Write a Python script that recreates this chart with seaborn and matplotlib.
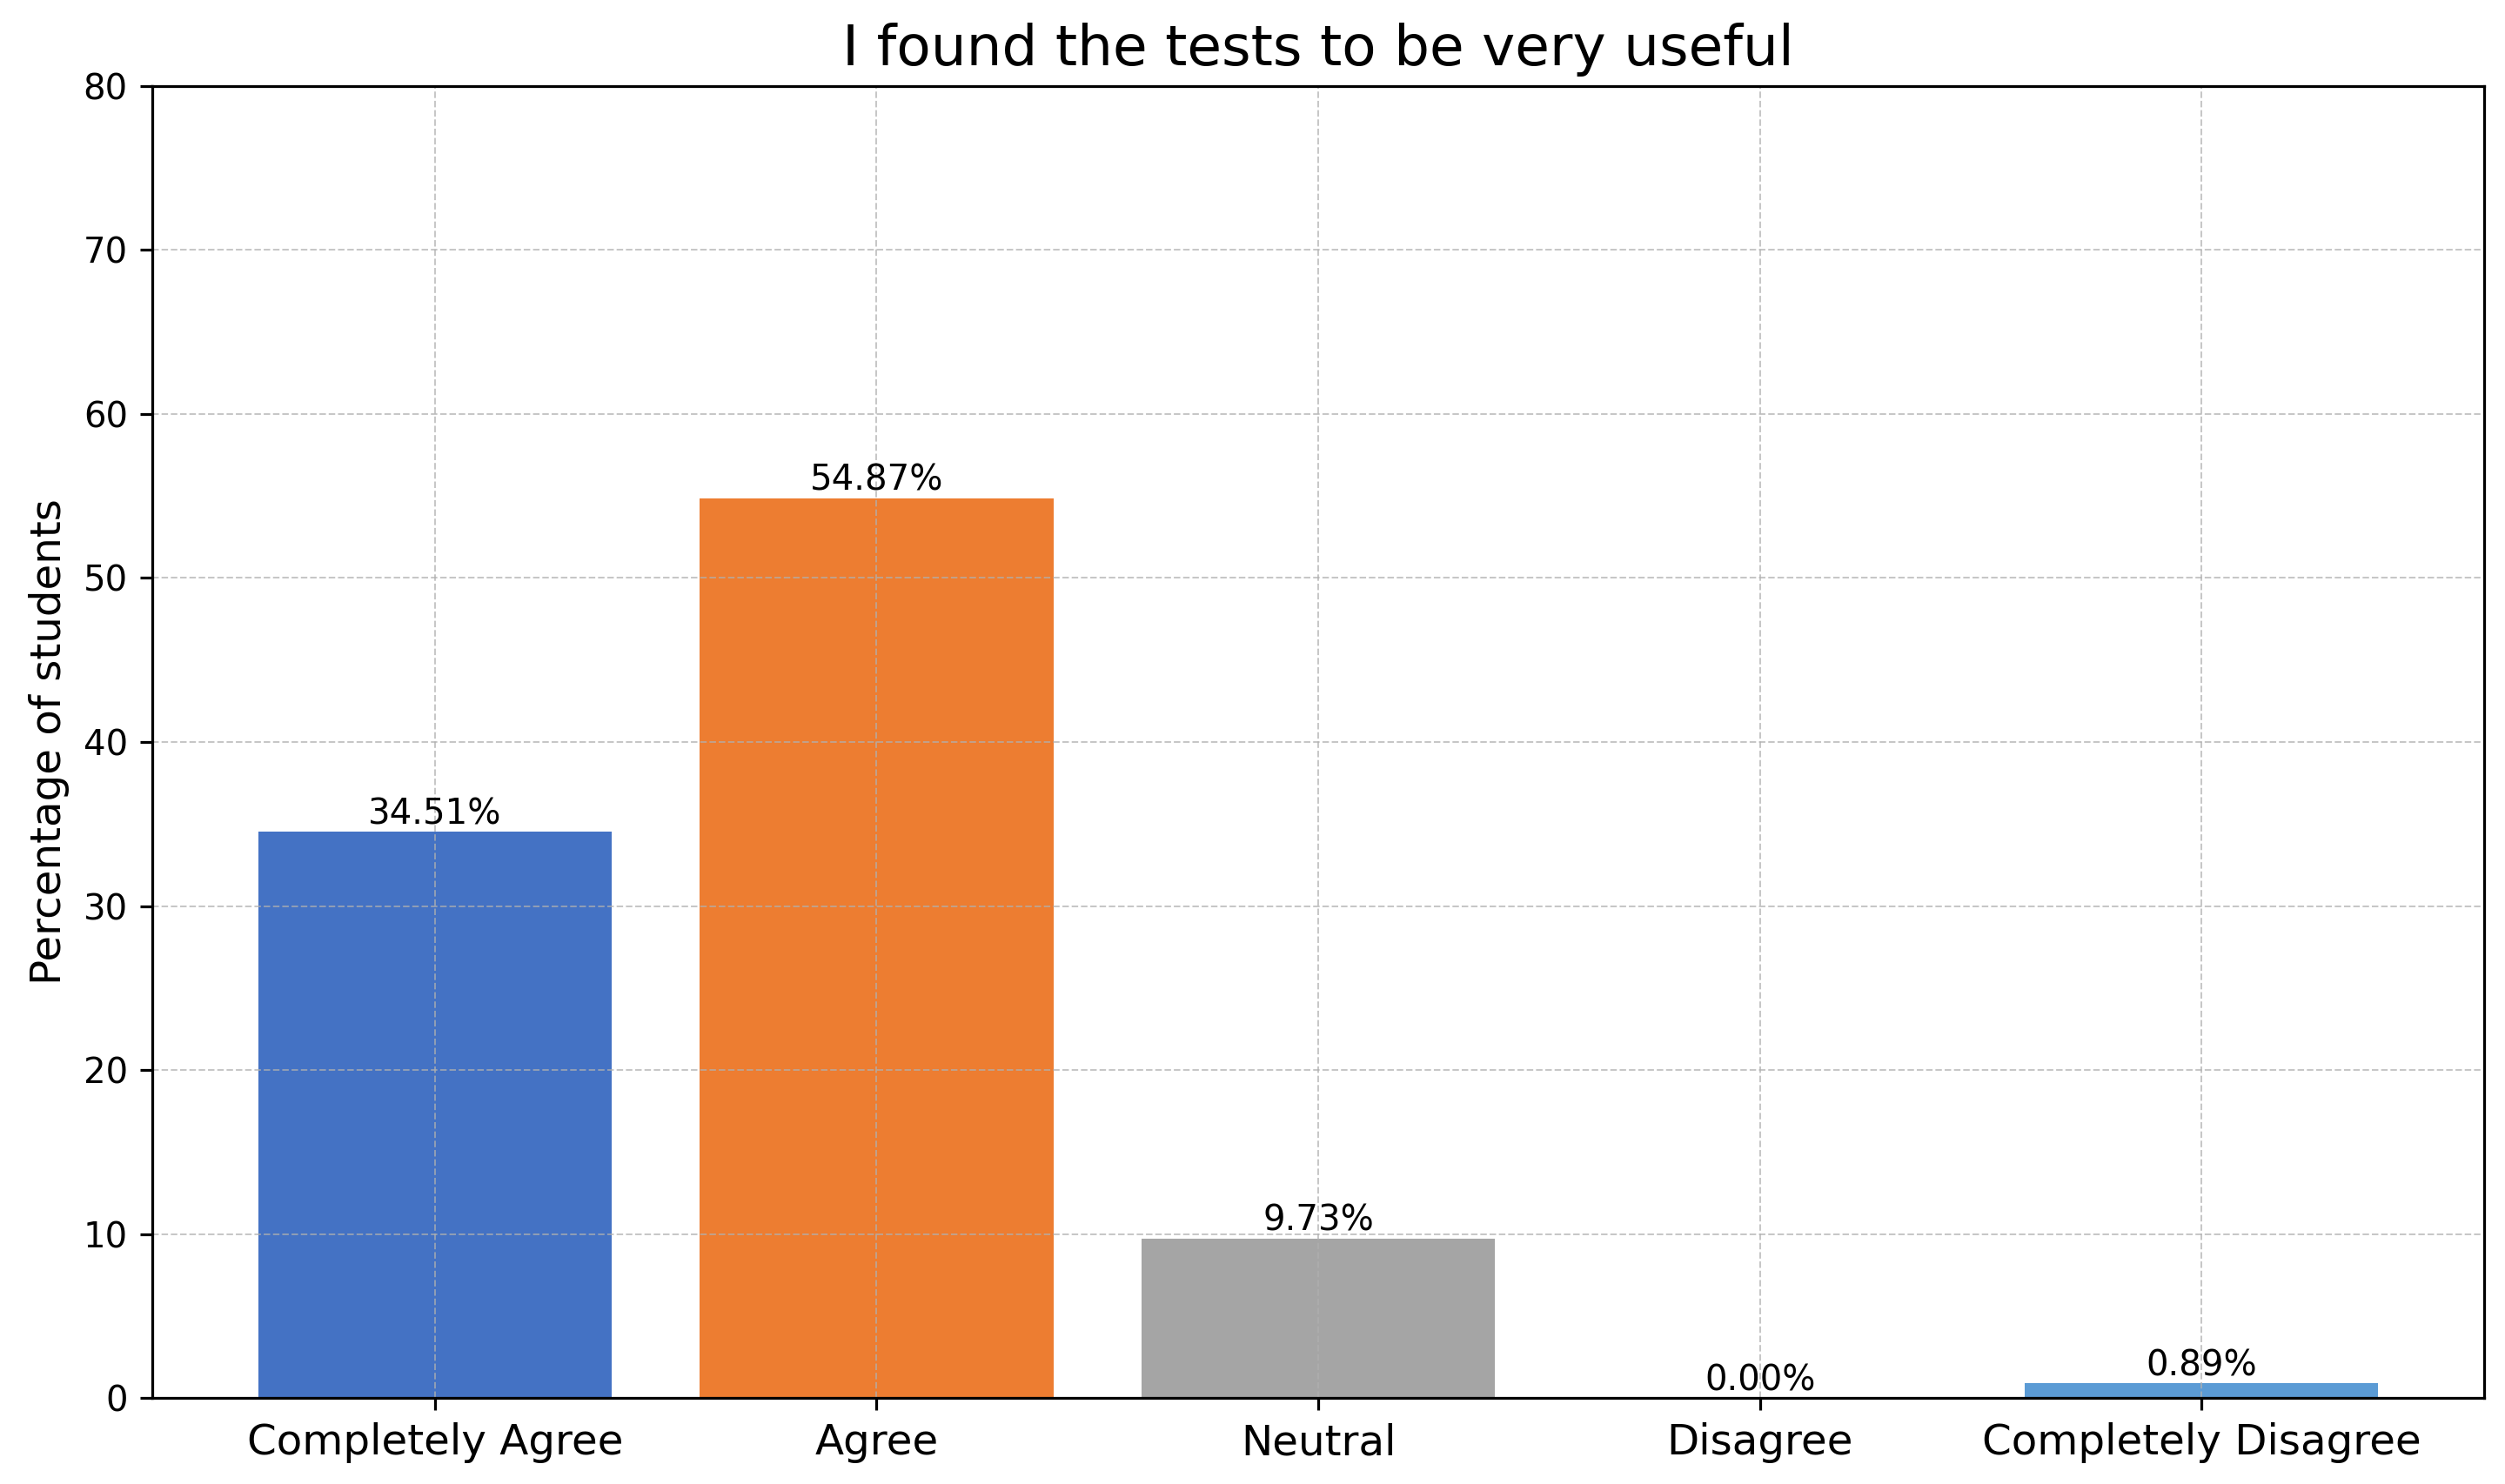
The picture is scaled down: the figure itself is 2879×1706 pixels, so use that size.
import matplotlib
matplotlib.use('Agg')
import matplotlib.pyplot as plt
import seaborn as sns
import pandas as pd

categories = ['Completely Agree', 'Agree', 'Neutral', 'Disagree', 'Completely Disagree']
percentages = [34.51, 54.87, 9.73, 0.00, 0.89]
bar_colors = ['#4472C4', '#ED7D31', '#A5A5A5', '#FFC000', '#5B9BD5']
y_ticks = [0, 10, 20, 30, 40, 50, 60, 70, 80]

df = pd.DataFrame({'answer': categories, 'pct': percentages})

DPI = 290
fig, ax = plt.subplots(figsize=(2879 / DPI, 1706 / DPI), dpi=DPI)
fig.subplots_adjust(left=0.0608, right=0.9917, bottom=0.058, top=0.942)

sns.barplot(data=df, x='answer', y='pct', hue='answer', palette=bar_colors,
            order=categories, hue_order=categories, saturation=1, width=0.8,
            legend=False, ax=ax)

for patch, val in zip(ax.patches, percentages):
    ax.text(patch.get_x() + patch.get_width() / 2, patch.get_height(), f'{val:.2f}%',
            ha='center', va='bottom', fontsize=10)

ax.set_xlim(-0.64, len(categories) - 0.36)
ax.set_ylim(0, 80)
ax.set_yticks(y_ticks)
ax.set_title('I found the tests to be very useful', fontsize=16)
ax.set_xlabel('')
ax.set_ylabel('Percentage of students', fontsize=12)
ax.tick_params(axis='x', labelsize=12)
ax.grid(True, linestyle='--', linewidth=0.5, alpha=0.7)

fig.savefig('out.png', dpi=DPI)
